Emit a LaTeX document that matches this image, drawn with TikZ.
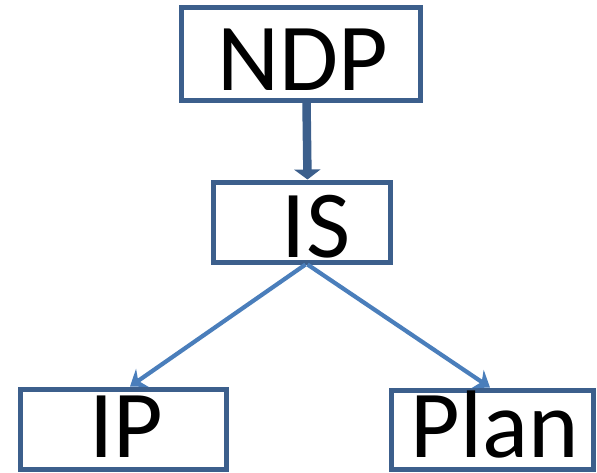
\documentclass[tikz,border=0pt]{standalone}
\usepackage{fontspec}
\setmainfont{Carlito}
\usetikzlibrary{arrows.meta,calc}
\definecolor{boxblue}{RGB}{60,95,140}
\definecolor{linkblue}{RGB}{74,126,187}
\tikzset{
  box/.style={draw=boxblue, line width=5pt, fill=white, rectangle, inner sep=0pt},
  lbl/.style={anchor=base, inner sep=0pt, text depth=0pt, font=\fontsize{96}{100}\selectfont},
  thicklink/.style={draw=boxblue, line width=8.5pt, -{Triangle[width=26pt,length=10pt]}},
  link/.style={draw=linkblue, line width=4.2pt, -{Stealth[width=22pt,length=15pt,inset=5pt]}}
}
\begin{document}
\begin{tikzpicture}[x=1pt,y=-1pt]
\useasboundingbox (0,0) rectangle (597,472);
\node[box, minimum width=239pt, minimum height=93pt] (ndp) at (300.5,53.5) {};
\node[box, minimum width=177pt, minimum height=80pt] (is) at (301.5,222) {};
\node[box, minimum width=206pt, minimum height=80pt] (ip) at (123,429) {};
\node[box, minimum width=202pt, minimum height=79pt] (plan) at (492,429.5) {};
\node[lbl] (tndp) at (303,90) {NDP};
\node[lbl] (tis) at (316,257) {IS};
\node[lbl] (tip) at (126,457) {IP};
\node[lbl] (tplan) at (495,457) {Plan};
\draw[thicklink] ([xshift=6pt]ndp.south) -- ([xshift=6pt]is.north);
\draw[link] ([xshift=4pt]is.south) -- ([xshift=7pt]ip.north);
\draw[link] ([xshift=6pt]is.south) -- ([xshift=-2pt]plan.north);
\end{tikzpicture}
\end{document}
